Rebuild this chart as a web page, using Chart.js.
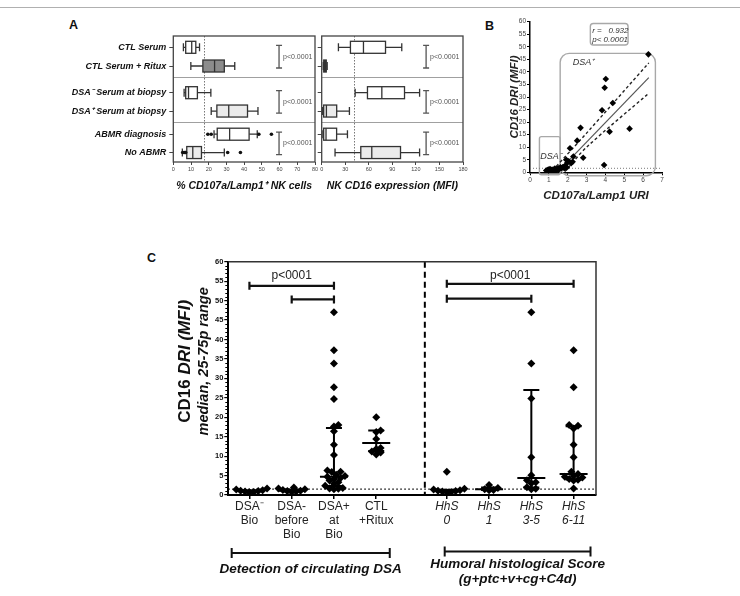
<!DOCTYPE html>
<html><head><meta charset="utf-8">
<script src="https://cdn.jsdelivr.net/npm/chart.js@4.4.0/dist/chart.umd.min.js"></script>
<style>
body{margin:0;background:#fff;width:740px;height:596px;overflow:hidden;position:relative;font-family:"Liberation Sans",Arial,sans-serif;}
canvas{position:absolute;}
.lbl{position:absolute;font-weight:bold;font-size:12.5px;color:#111;}
#topline{position:absolute;left:0;top:7px;width:740px;height:1px;background:#b0b0b0;}
</style></head><body>
<div id="topline"></div>
<div class="lbl" style="left:69px;top:18px">A</div>
<div class="lbl" style="left:485px;top:19px">B</div>
<div class="lbl" style="left:147px;top:251px">C</div>
<canvas id="a1" width="262" height="190" style="left:60px;top:10px"></canvas>
<canvas id="a2" width="165" height="190" style="left:316px;top:10px"></canvas>
<canvas id="b" width="195" height="200" style="left:480px;top:10px"></canvas>
<canvas id="c" width="470" height="340" style="left:140px;top:250px"></canvas>
<script>
// ================= DATA =================
// Panel A rows
const rowLabels = ['CTL Serum','CTL Serum + Ritux','DSA\u207B Serum at biopsy','DSA\u207A Serum at biopsy','ABMR diagnosis','No ABMR'];
// % CD107a/Lamp1+ NK cells (box: min, q1, median, q3, max)
const lampMin = [5.7, 9.9, 6.1, 21.4, 23.0, 5.1];
const lampQ1  = [7.0, 16.7, 7.0, 24.6, 24.8, 7.6];
const lampMed = [10.4, 23.3, 8.6, 31.3, 31.8, 11.0];
const lampQ3  = [12.7, 28.8, 13.6, 41.9, 42.8, 15.9];
const lampMax = [14.8, 34.7, 21.2, 47.8, 47.4, 28.8];
const lampOutRow = [4, 4, 4, 4, 5, 5, 5, 5, 5, 5];
const lampOutVal = [19.5, 21.4, 48.3, 55.4, 5.3, 6.0, 6.6, 7.0, 30.7, 37.9];
const lampCut = 17.4;
// NK CD16 expression (MFI)
const cd16Min = [21.3, 2.0, 42.6, 1.0, 1.5, 17.0];
const cd16Q1  = [36.6, 2.6, 58.3, 2.5, 2.5, 49.8];
const cd16Med = [53.2, 4.2, 76.6, 6.0, 5.5, 63.8];
const cd16Q3  = [81.3, 5.8, 105.5, 19.1, 19.0, 100.4];
const cd16Max = [102.0, 7.0, 124.7, 35.3, 32.8, 124.7];
const cd16Cut = 41.7;
const pLabelA = 'p<0.0001';

// Panel B scatter
const uriX = [6.28,4.02,3.96,4.39,3.82,2.68,5.28,4.22,2.50,2.12,2.82,2.30,3.93,1.92,2.05,1.98,2.18,2.26,1.86,1.76,1.62,1.95,1.50,1.42,1.32,1.22,1.12,1.02,0.92,0.86,1.06,1.16,1.28,1.38,1.48,1.56,0.97,1.66,1.72,1.82];
const driY = [47.0,37.2,33.7,27.6,24.7,17.7,17.4,16.2,12.6,9.6,5.8,6.3,2.9,5.0,4.4,3.8,3.6,4.2,2.6,2.1,2.0,1.9,1.6,1.3,1.5,1.1,1.0,0.9,0.8,0.7,1.3,0.8,1.0,0.9,1.1,1.3,1.1,1.6,1.9,1.6];
const fitX = [1.45, 6.3];
const fitY = [0.0, 37.7];
const hiX = [1.2, 3.0, 6.3];
const hiY = [0.8, 15.6, 43.6];
const loX = [1.85, 3.0, 6.3];
const loY = [0.3, 10.0, 31.5];
const bCut = 1.6;
const rText = ['r =   0.932', 'p< 0.0001'];

// Panel C
const cLabels = [['DSA\u207B','Bio'],['DSA-','before','Bio'],['DSA+','at','Bio'],['CTL','+Ritux'],['HhS','0'],['HhS','1'],['HhS','3-5'],['HhS','6-11']];
const dsaNegBio   = [0.7,0.8,0.9,1.0,1.1,1.2,1.4,1.7];
const dsaNegBefore= [0.8,0.9,1.0,1.1,1.3,1.5,1.7,1.9];
const dsaPosBio   = [47.0,37.2,33.8,27.7,24.7,18.0,17.6,16.4,12.9,10.3,6.3,6.0,5.9,5.2,4.9,4.7,4.4,4.1,3.7,3.3,2.9,2.4,1.8,1.7,1.6,1.5];
const ctlRitux    = [20.0,16.6,16.2,14.4,12.1,11.8,11.2,10.9,10.4];
const hhs0        = [6.0,1.6,1.4,1.2,1.1,1.0,0.9,0.8,0.7];
const hhs1        = [2.6,1.8,1.5,1.3,1.2];
const hhs35       = [47.0,33.8,24.8,9.7,5.1,3.8,3.3,3.0,2.0,1.6,1.5];
const hhs611      = [37.2,27.7,18.0,17.8,17.1,12.9,9.7,6.0,5.4,4.9,4.7,4.5,4.1,3.9,3.7,1.7];
const cGroups = [dsaNegBio, dsaNegBefore, dsaPosBio, ctlRitux, hhs0, hhs1, hhs35, hhs611];
const cMed = [1.0, 1.1, 4.7, 13.4, 1.0, 1.5, 4.4, 5.4];
const cQ1  = [0.9, 0.9, 2.3, 11.3, 0.85, 1.3, 1.9, 4.0];
const cQ3  = [1.2, 1.4, 17.2, 16.6, 1.3, 1.9, 27.0, 17.7];
const cCut = 1.5;
const cP = 'p<0001';
const cBrackets = [[0,2,53.8],[1,2,50.3],[4,7,54.3],[4,6,50.5]];
const cPText = [[0,2,56.4],[4,7,56.4]];

// ================= LAYOUT =================
const FF = '"Liberation Sans", Arial, sans-serif';
Chart.defaults.font.family = FF;
Chart.defaults.color = '#222';
const rowSlots = [0.61, 1.62, 3.06, 4.05, 5.30, 6.29];
const sepSlots = [2.23, 4.66];
const pPairs = [[0,1],[2,3],[4,5]];
const xPos = [1, 2, 3, 4, 5.67, 6.67, 7.67, 8.67];
const dividerX = 5.15;
const groupBrk = [[0.58, 4.32, ['Detection of circulating DSA'], 16.5], [5.62, 9.07, ['Humoral histological Score','(g+ptc+v+cg+C4d)'], 12.5]];

// ================= PANEL A =================
function aPlugin(st, fills, cut, pX){
  return {
    id:'aBoxes',
    beforeDatasetsDraw(chart){
      const {ctx, chartArea:a, scales:{x, y}} = chart;
      ctx.save();
      ctx.strokeStyle = '#a0a0a0'; ctx.lineWidth = 1;
      sepSlots.forEach(s => { const py = Math.round(y.getPixelForValue(s)) + 0.5;
        ctx.beginPath(); ctx.moveTo(a.left, py); ctx.lineTo(a.right, py); ctx.stroke(); });
      ctx.strokeStyle = '#777'; ctx.setLineDash([1.5, 1.5]);
      const cx = Math.round(x.getPixelForValue(cut)) + 0.5;
      ctx.beginPath(); ctx.moveTo(cx, a.top); ctx.lineTo(cx, a.bottom); ctx.stroke();
      ctx.setLineDash([]);
      ctx.strokeStyle = '#333'; ctx.lineWidth = 1.3;
      for (let i = 0; i < st.med.length; i++){
        const py = y.getPixelForValue(rowSlots[i]);
        const p = k => x.getPixelForValue(st[k][i]);
        const x0 = p('min'), x1 = p('q1'), xm = p('med'), x3 = p('q3'), x4 = p('max');
        ctx.beginPath();
        ctx.moveTo(x0, py); ctx.lineTo(x1, py); ctx.moveTo(x3, py); ctx.lineTo(x4, py);
        ctx.moveTo(x0, py-4); ctx.lineTo(x0, py+4); ctx.moveTo(x4, py-4); ctx.lineTo(x4, py+4);
        ctx.stroke();
        ctx.fillStyle = fills[i];
        ctx.fillRect(x1, py-6, x3-x1, 12); ctx.strokeRect(x1, py-6, x3-x1, 12);
        ctx.beginPath(); ctx.moveTo(xm, py-6); ctx.lineTo(xm, py+6); ctx.stroke();
      }
      const bx = x.getPixelForValue(pX);
      ctx.strokeStyle = '#555';
      ctx.fillStyle = '#555'; ctx.font = '7px ' + FF; ctx.textBaseline = 'middle'; ctx.textAlign = 'left';
      pPairs.forEach(([r0, r1]) => {
        const y0 = y.getPixelForValue(rowSlots[r0]) - 2, y1 = y.getPixelForValue(rowSlots[r1]) + 2;
        ctx.beginPath(); ctx.moveTo(bx, y0); ctx.lineTo(bx, y1);
        ctx.moveTo(bx-3, y0); ctx.lineTo(bx+3, y0); ctx.moveTo(bx-3, y1); ctx.lineTo(bx+3, y1); ctx.stroke();
        ctx.fillText(pLabelA, bx + 4, (y0 + y1) / 2);
      });
      ctx.strokeStyle = '#444'; ctx.lineWidth = 1.3;
      ctx.strokeRect(a.left, a.top, a.right - a.left, a.bottom - a.top);
      ctx.restore();
    }
  };
}

function panelA(id, max, step, title, st, fills, cut, pX, showLabels, yWidth, padL, padR, outRows, outVals){
  return new Chart(document.getElementById(id), {
    type:'scatter',
    data:{datasets:[{data: outVals.map((v,i)=>({x:v, y:rowSlots[outRows[i]]})), pointStyle:'circle', pointRadius:1.8, backgroundColor:'#111', borderColor:'#111', borderWidth:0}]},
    options:{
      responsive:false, animation:false, devicePixelRatio:1,
      layout:{padding:{left:padL, top:26, right:padR, bottom:0}},
      plugins:{legend:{display:false}, tooltip:{enabled:false}},
      scales:{
        x:{type:'linear', min:0, max:max,
           ticks:{stepSize:step, font:{size:5.5}, color:'#444', padding:1, maxRotation:0},
           grid:{drawOnChartArea:false, tickLength:3, color:'#444'}, border:{display:false},
           title:{display:true, text:title, font:{size:10.5, weight:'bold', style:'italic'}, color:'#111', padding:{top:2, bottom:8}},
           afterFit: s => { s.height = 38; }},
        y:{type:'linear', min:0, max:6.8, reverse:true,
           afterBuildTicks: s => { s.ticks = rowSlots.map(v => ({value:v})); },
           ticks:{callback:(v,i) => showLabels ? rowLabels[i] : '', autoSkip:false,
                  font:{size:9, weight:'bold', style:'italic'}, color:'#111', padding:3},
           grid:{drawOnChartArea:false, tickLength:4, color:'#444'}, border:{display:false},
           afterFit: s => { s.width = yWidth; }}
      }
    },
    plugins:[aPlugin(st, fills, cut, pX)]
  });
}

panelA('a1', 80, 10, '% CD107a/Lamp1\u207A NK cells',
  {min:lampMin, q1:lampQ1, med:lampMed, q3:lampQ3, max:lampMax},
  ['#fff','#8c8c8c','#fff','#ebebeb','#fff','#ebebeb'], lampCut, 59.7, true, 113.3, 0, 7, lampOutRow, lampOutVal);
panelA('a2', 180, 30, 'NK CD16 expression (MFI)',
  {min:cd16Min, q1:cd16Q1, med:cd16Med, q3:cd16Q3, max:cd16Max},
  ['#fff','#333','#fff','#ebebeb','#fff','#ebebeb'], cd16Cut, 133, false, 5.7, 0, 18, [], []);

// ================= PANEL B =================
const bAnnot = {
  id:'bAnnot',
  beforeDatasetsDraw(chart){
    const {ctx, scales:{x, y}} = chart;
    const rr = (x0,x1,y0,y1,r) => { const X0=x.getPixelForValue(x0), X1=x.getPixelForValue(x1), Y0=y.getPixelForValue(y0), Y1=y.getPixelForValue(y1);
      ctx.beginPath(); ctx.roundRect(X0, Y0, X1-X0, Y1-Y0, r); ctx.stroke(); };
    ctx.save();
    ctx.strokeStyle = '#a8a8a8'; ctx.lineWidth = 1.4;
    rr(1.6, 6.65, 47.4, -1.35, 9);
    rr(0.5, 1.6, 14.2, -1.0, 2);
    rr(3.2, 5.2, 59.3, 50.7, 3);
    ctx.fillStyle = '#333'; ctx.textBaseline = 'middle'; ctx.textAlign = 'left';
    ctx.font = 'italic 9px ' + FF;
    ctx.fillText('DSA\u207A', x.getPixelForValue(2.27), y.getPixelForValue(43.7));
    ctx.fillText('DSA\u207B', x.getPixelForValue(0.55), y.getPixelForValue(6.2));
    ctx.font = 'italic 8px ' + FF;
    ctx.fillText(rText[0], x.getPixelForValue(3.3), y.getPixelForValue(56.4));
    ctx.fillText(rText[1], x.getPixelForValue(3.3), y.getPixelForValue(52.7));
    ctx.restore();
  }
};
new Chart(document.getElementById('b'), {
  type:'scatter',
  data:{datasets:[
    {data: uriX.map((v,i)=>({x:v, y:driY[i]})), pointStyle:'rectRot', pointRadius:3.3, backgroundColor:'#000', borderColor:'#000', borderWidth:0},
    {data: fitX.map((v,i)=>({x:v, y:fitY[i]})), showLine:true, pointRadius:0, borderColor:'#555', borderWidth:1.2},
    {data: hiX.map((v,i)=>({x:v, y:hiY[i]})), showLine:true, pointRadius:0, borderColor:'#222', borderWidth:1.4, borderDash:[3,2.5], tension:0.3},
    {data: loX.map((v,i)=>({x:v, y:loY[i]})), showLine:true, pointRadius:0, borderColor:'#222', borderWidth:1.4, borderDash:[3,2.5], tension:0.3},
    {data: [{x:0, y:bCut}, {x:7, y:bCut}], showLine:true, pointRadius:0, borderColor:'#777', borderWidth:1, borderDash:[1,2]}
  ]},
  options:{
    responsive:false, animation:false, devicePixelRatio:1,
    layout:{padding:{left:20, top:11.7, right:13, bottom:0}},
    plugins:{legend:{display:false}, tooltip:{enabled:false}},
    scales:{
      x:{type:'linear', min:0, max:7,
         ticks:{stepSize:1, font:{size:6.5}, color:'#444', padding:1, maxRotation:0},
         grid:{drawOnChartArea:false, tickLength:3, color:'#000'}, border:{color:'#000', width:1.5},
         title:{display:true, text:'CD107a/Lamp1 URI', font:{size:11.5, weight:'bold', style:'italic'}, color:'#222', padding:{top:2, bottom:7}},
         afterFit: s => { s.height = 37.7; }},
      y:{type:'linear', min:0, max:60,
         ticks:{stepSize:5, font:{size:6.5}, color:'#444', padding:1},
         grid:{drawOnChartArea:false, tickLength:3, color:'#000'}, border:{color:'#000', width:1.5},
         title:{display:true, text:'CD16 DRI (MFI)', font:{size:11.5, weight:'bold', style:'italic'}, color:'#222', padding:{top:8, bottom:0}},
         afterFit: s => { s.width = 30; }}
    }
  },
  plugins:[bAnnot]
});

// ================= PANEL C =================
const cPlugin = {
  id:'cPlugin',
  beforeDatasetsDraw(chart){
    const {ctx, chartArea:a, scales:{x, y}} = chart;
    ctx.save();
    ctx.strokeStyle = '#000'; ctx.lineWidth = 1.2; ctx.setLineDash([1.5, 2.5]);
    let py = y.getPixelForValue(cCut);
    ctx.beginPath(); ctx.moveTo(a.left, py); ctx.lineTo(a.right, py); ctx.stroke();
    ctx.setLineDash([6, 4]); ctx.lineWidth = 2;
    const dx = x.getPixelForValue(dividerX);
    ctx.beginPath(); ctx.moveTo(dx, a.top); ctx.lineTo(dx, a.bottom); ctx.stroke();
    ctx.setLineDash([]);
    ctx.lineWidth = 2;
    xPos.forEach((p, i) => {
      const px = x.getPixelForValue(p);
      const y1 = y.getPixelForValue(cQ1[i]), y3 = y.getPixelForValue(cQ3[i]), ym = y.getPixelForValue(cMed[i]);
      ctx.beginPath();
      ctx.moveTo(px, y1); ctx.lineTo(px, y3);
      ctx.moveTo(px-8, y1); ctx.lineTo(px+8, y1);
      ctx.moveTo(px-8, y3); ctx.lineTo(px+8, y3);
      ctx.moveTo(px-14, ym); ctx.lineTo(px+14, ym);
      ctx.stroke();
    });
    ctx.restore();
  },
  afterDraw(chart){
    const {ctx, chartArea:a, scales:{x, y}} = chart;
    ctx.save();
    // frame top/right
    ctx.strokeStyle = '#333'; ctx.lineWidth = 1.5;
    ctx.beginPath(); ctx.moveTo(a.left, a.top); ctx.lineTo(a.right, a.top); ctx.lineTo(a.right, a.bottom); ctx.stroke();
    // minor ticks
    ctx.strokeStyle = '#000'; ctx.lineWidth = 1;
    for (let v = 0; v <= 60; v++){ if (v % 5 === 0) continue;
      const py = Math.round(y.getPixelForValue(v)) + 0.5;
      ctx.beginPath(); ctx.moveTo(a.left - 3, py); ctx.lineTo(a.left, py); ctx.stroke(); }
    // significance brackets
    ctx.lineWidth = 2.2; ctx.strokeStyle = '#111';
    cBrackets.forEach(([i0, i1, v]) => {
      const x0 = x.getPixelForValue(xPos[i0]), x1 = x.getPixelForValue(xPos[i1]), py = y.getPixelForValue(v);
      ctx.beginPath(); ctx.moveTo(x0, py); ctx.lineTo(x1, py);
      ctx.moveTo(x0, py-4); ctx.lineTo(x0, py+4); ctx.moveTo(x1, py-4); ctx.lineTo(x1, py+4); ctx.stroke();
    });
    ctx.fillStyle = '#222'; ctx.font = '12px ' + FF; ctx.textAlign = 'center'; ctx.textBaseline = 'middle';
    cPText.forEach(([i0, i1, v]) => {
      ctx.fillText(cP, (x.getPixelForValue(xPos[i0]) + x.getPixelForValue(xPos[i1])) / 2, y.getPixelForValue(v));
    });
    // group brackets below the axis
    ctx.lineWidth = 2; ctx.strokeStyle = '#111'; ctx.fillStyle = '#111';
    ctx.font = 'bold italic 13.5px ' + FF;
    const by = a.bottom + 58;
    groupBrk.forEach(([g0, g1, lines, off], k) => {
      const x0 = x.getPixelForValue(g0), x1 = x.getPixelForValue(g1), yy = by - k * 1.5;
      ctx.beginPath(); ctx.moveTo(x0, yy); ctx.lineTo(x1, yy);
      ctx.moveTo(x0, yy-5); ctx.lineTo(x0, yy+5); ctx.moveTo(x1, yy-5); ctx.lineTo(x1, yy+5); ctx.stroke();
      lines.forEach((t, j) => ctx.fillText(t, (x0 + x1) / 2, yy + off + j * 15.3));
    });
    // y title (two lines, rotated)
    const cy = (a.top + a.bottom) / 2 - 17;
    ctx.translate(45.7, cy); ctx.rotate(-Math.PI / 2);
    ctx.textAlign = 'left'; ctx.textBaseline = 'middle'; ctx.fillStyle = '#111';
    const f1 = 'bold 17px ' + FF, f1i = 'bold italic 17px ' + FF;
    ctx.font = f1; const w1 = ctx.measureText('CD16 ').width;
    ctx.font = f1i; const w2 = ctx.measureText('DRI (MFI)').width;
    const s = -(w1 + w2) / 2;
    ctx.font = f1; ctx.fillText('CD16 ', s, 0);
    ctx.font = f1i; ctx.fillText('DRI (MFI)', s + w1, 0);
    ctx.font = 'bold italic 14.5px ' + FF; ctx.textAlign = 'center';
    ctx.fillText('median, 25-75p range', 0, 18.6);
    ctx.restore();
  }
};

const cChart = new Chart(document.getElementById('c'), {
  type:'scatter',
  data:{datasets: cGroups.map((g, gi) => ({
    data: g.map(v => ({x: xPos[gi], y: v})),
    pointStyle:'rectRot', pointRadius:4, backgroundColor:'#000', borderColor:'#000', borderWidth:0
  }))},
  options:{
    responsive:false, animation:false, devicePixelRatio:1,
    layout:{padding:{left:0, top:11.7, right:14, bottom:0}},
    plugins:{legend:{display:false}, tooltip:{enabled:false}},
    scales:{
      x:{type:'linear', min:0.5, max:9.2,
         afterBuildTicks: s => { s.ticks = xPos.map(v => ({value:v})); },
         ticks:{callback:(v, i) => cLabels[i], autoSkip:false, maxRotation:0, padding:0, color:'#222',
                font: c => ({size:12, family:FF, style: c.index >= 4 ? 'italic' : 'normal'})},
         grid:{drawOnChartArea:false, tickLength:4, color:'#000', lineWidth:1.5},
         border:{color:'#000', width:2},
         afterFit: s => { s.height = 95; }},
      y:{type:'linear', min:0, max:60,
         ticks:{stepSize:5, font:{size:7.5, weight:'bold'}, color:'#111', padding:1},
         grid:{drawOnChartArea:false, tickLength:4, color:'#000', lineWidth:1.2},
         border:{color:'#000', width:2},
         afterFit: s => { s.width = 88.3; }}
    }
  },
  plugins:[cPlugin]
});

// horizontal spreading of overlapping points (computed from the chart's own scales)
(function swarm(chart){
  const xs = chart.scales.x, ys = chart.scales.y;
  const pxPerX = xs.getPixelForValue(1) - xs.getPixelForValue(0);
  const d = 4.4, step = 2.2;
  chart.data.datasets.forEach((ds, g) => {
    const vals = cGroups[g];
    const order = vals.map((v, i) => i).sort((a, b) => vals[a] - vals[b]);
    const placed = [];
    order.forEach(i => {
      const py = ys.getPixelForValue(vals[i]);
      let off = 0;
      for (let k = 0; k < 80; k++){
        const cand = k === 0 ? 0 : (k % 2 ? 1 : -1) * Math.ceil(k / 2) * step;
        if (placed.every(p => Math.hypot(p.x - cand, p.y - py) >= d)){ off = cand; break; }
      }
      placed.push({x: off, y: py});
      ds.data[i] = {x: xPos[g] + off / pxPerX, y: vals[i]};
    });
  });
  chart.update('none');
})(cChart);
</script>
</body></html>
